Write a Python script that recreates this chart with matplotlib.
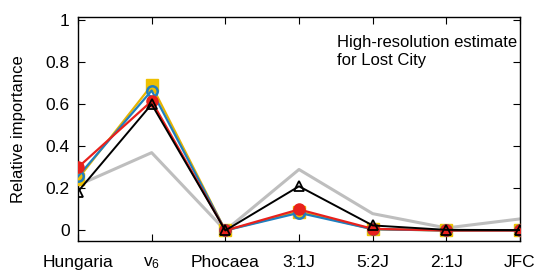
import numpy as np
from matplotlib import pyplot as plt

plt.rcParams['font.family'] = ['Liberation Sans', 'DejaVu Sans']
plt.rcParams['mathtext.fontset'] = 'custom'
plt.rcParams['mathtext.rm'] = 'Liberation Sans'
plt.rcParams['mathtext.it'] = 'Liberation Sans'

# Fuentes de meteoritos
fuentes = ['Hungaria', r'$\mathregular{v_6}$', 'Phocaea', '3:1J', '5:2J', '2:1J', 'JFC']

# Importancia relativa de cada modelo
gris = [0.215, 0.37, 0.0, 0.29, 0.08, 0.012, 0.055]
amarillo = [0.245, 0.69, 0.0, 0.09, 0.006, 0.0, 0.0]
azul = [0.257, 0.665, 0.0, 0.084, 0.006, 0.0, 0.0]
rojo = [0.30, 0.615, 0.0, 0.10, 0.008, 0.0, 0.0]
negro = [0.185, 0.60, 0.0, 0.21, 0.024, 0.003, 0.002]

x = np.arange(len(fuentes))

fig = plt.figure(figsize=(5.48, 2.74), dpi=100)
ax = fig.add_axes([0.1423, 0.1204, 0.8066, 0.8186])

ax.plot(x, gris, color='#bebebe', lw=2.2, zorder=2)
ax.plot(x, amarillo, color='#e6b400', lw=1.6, marker='s', ms=8,
        mfc='#eec000', mec='#eec000', zorder=3)
ax.plot(x, azul, color='#1f7fbf', lw=1.6, marker='o', ms=7.5,
        mfc='none', mec='#1f7fbf', mew=1.8, zorder=4)
ax.plot(x, rojo, color='#e8211c', lw=1.6, marker='o', ms=8,
        mfc='#e8211c', mec='#e8211c', zorder=5)
ax.plot(x, negro, color='black', lw=1.4, marker='^', ms=7,
        mfc='none', mec='black', mew=1.3, zorder=6)

ax.set_xlim(0, 6)
ax.set_ylim(-0.05, 1.016)
ax.set_xticks(x)
ax.set_xticklabels(fuentes)
ax.set_yticks([0, 0.2, 0.4, 0.6, 0.8, 1])
ax.set_yticklabels(['0', '0.2', '0.4', '0.6', '0.8', '1'])
ax.tick_params(direction='in', top=True, right=True, length=5, labelsize=12.5)
ax.tick_params(axis='x', pad=10)
ax.tick_params(axis='y', pad=6)
ax.set_ylabel('Relative importance', fontsize=12, labelpad=14)

ax.text(0.586, 0.92, 'High-resolution estimate\nfor Lost City', transform=ax.transAxes,
        fontsize=12, va='top', ha='left', linespacing=1.3)

for sp in ax.spines.values():
    sp.set_linewidth(1.0)

fig.savefig('out.png', dpi=100)
